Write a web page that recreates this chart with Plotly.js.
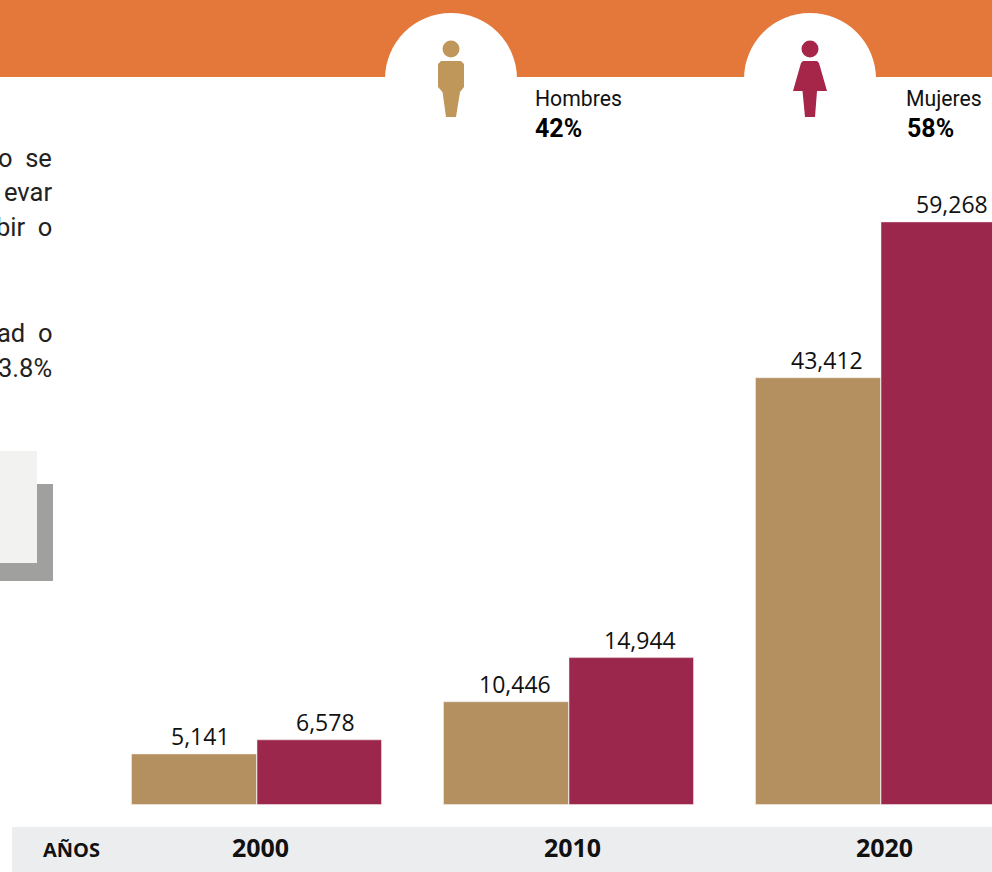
<!DOCTYPE html>
<html>
<head>
<meta charset="utf-8">
<script src="https://cdn.plot.ly/plotly-3.0.1.min.js"></script>
<style>html,body{margin:0;padding:0;background:#fff;overflow:hidden}#c{width:992px;height:872px}</style>
</head>
<body>
<div id="c"></div>
<script>
const years = [2000, 2010, 2020];
const hombres = [5141, 10446, 43412];
const mujeres = [6578, 14944, 59268];
const leyenda = [['Hombres', '42%'], ['Mujeres', '58%']];
const textoCortado = ['o\u00a0\u00a0se', 'evar', 'bir\u00a0\u00a0o', 'ad\u00a0\u00a0o', '3.8%'];
const textoY = [158, 192, 227, 333, 368];

const W = 992, H = 872, BASE = 805;
const px = x => x / W;
const py = y => (BASE - y) / BASE;
const PPY = 31.2; // pixels per year on the x axis
const PPV = 0.00983; // pixels per person on the y axis
const TAN = '#b48f5f', MAROON = '#9c274c', ORANGE = '#e4783a';
const ICON_TAN = '#bf975a', ICON_MAROON = '#a6264a';

const rect = (x0, y0, x1, y1, c) => ({type:'rect', xref:'paper', yref:'paper', x0:px(x0), x1:px(x1), y0:py(y1), y1:py(y0), fillcolor:c, line:{width:0}, layer:'below'});
const circle = (cx, cy, rx, ry, c) => ({type:'circle', xref:'paper', yref:'paper', x0:px(cx-rx), x1:px(cx+rx), y0:py(cy+ry), y1:py(cy-ry), fillcolor:c, line:{width:0}, layer:'below'});
const poly = (pts, c) => ({type:'path', xref:'paper', yref:'paper', path:'M' + pts.map(p => px(p[0]) + ',' + py(p[1])).join('L') + 'Z', fillcolor:c, line:{width:0}, layer:'below'});

const shapes = [
  rect(0, 0, 992, 77, ORANGE),
  circle(451, 79, 66, 66, '#fff'),
  circle(810, 79, 66, 66, '#fff'),
  rect(12, 827, 992, 872, '#ecedef'),
  rect(0, 484, 53, 581, '#a0a09f'),
  rect(0, 451, 37, 563, '#f2f2f1'),
  circle(451, 49, 8.5, 8.5, ICON_TAN),
  poly([[441,61],[461,61],[464,64],[464,87],[460,92],[456,117],[446,117],[442.5,92],[438,87],[438,64]], ICON_TAN),
  circle(810, 49, 8.5, 8.5, ICON_MAROON),
  poly([[803,61],[817,61],[819,63],[827,91],[817,91],[815,117],[805,117],[802.5,91],[793,91],[801,63]], ICON_MAROON)
];

const note = (x, y, text, size, opts) => Object.assign({
  xref:'paper', yref:'paper', x:px(x), y:py(y), text, showarrow:false,
  xanchor:'left', yanchor:'middle', borderpad:0,
  font:{family:'Roboto', size, color:'#111'}
}, opts || {});

const annotations = [];
textoCortado.forEach((t, i) => annotations.push(note(53, textoY[i], t, 25.5, {xanchor:'right', font:{family:'Roboto', size:25.5, color:'#222'}})));
[[534, 0], [905, 1]].forEach(([x, i]) => {
  annotations.push(note(x, 99, leyenda[i][0], 21.2));
  annotations.push(note(x + (i ? 1 : 0), 129, leyenda[i][1], 25, {font:{family:'Roboto', size:25, color:'#000', weight:700}}));
});
annotations.push(note(42, 849, 'AÑOS', 20, {font:{family:'Open Sans', size:20, color:'#111', weight:700}}));
const fmt = v => v.toLocaleString('en-US');
const labels = (vals, shift) => vals.forEach((v, i) => annotations.push({
  xref:'x', yref:'y', x:years[i], y:v, text:fmt(v), showarrow:false,
  xanchor:'center', yanchor:'bottom', xshift:shift + (i === 0 ? -2 : 0), yshift:1, borderpad:0,
  font:{family:'Open Sans', size:23, color:'#111'}
}));
labels(hombres, -58);
labels(mujeres, 67);

const bar = (name, y, color, offPx, wPx) => ({
  type:'bar', name, x:years, y, offset:offPx / PPY, width:wPx / PPY,
  marker:{color, line:{color:'#f4f0f2', width:0.5}}, hoverinfo:'skip'
});
const x0Year = 2000 - 260.5 / PPY;
const yMin = -0.5 / PPV;

Plotly.newPlot('c', [
  bar('Hombres', hombres, TAN, -129, 125),
  bar('Mujeres', mujeres, MAROON, -3.5, 124.5)
], {
  width:W, height:H, margin:{l:0, r:0, t:0, b:H-BASE, pad:0},
  paper_bgcolor:'#fff', plot_bgcolor:'rgba(0,0,0,0)', showlegend:false, barmode:'overlay',
  xaxis:{range:[x0Year, x0Year + W / PPY], tickmode:'array', tickvals:years, ticktext:years.map(String),
    ticks:'', showgrid:false, zeroline:false, showline:false, ticklabelstandoff:26,
    tickfont:{family:'Open Sans', size:25, color:'#111', weight:700}, fixedrange:true},
  yaxis:{range:[yMin, yMin + BASE / PPV], visible:false, fixedrange:true},
  shapes, annotations
}, {displayModeBar:false, staticPlot:true});
</script>
</body>
</html>
